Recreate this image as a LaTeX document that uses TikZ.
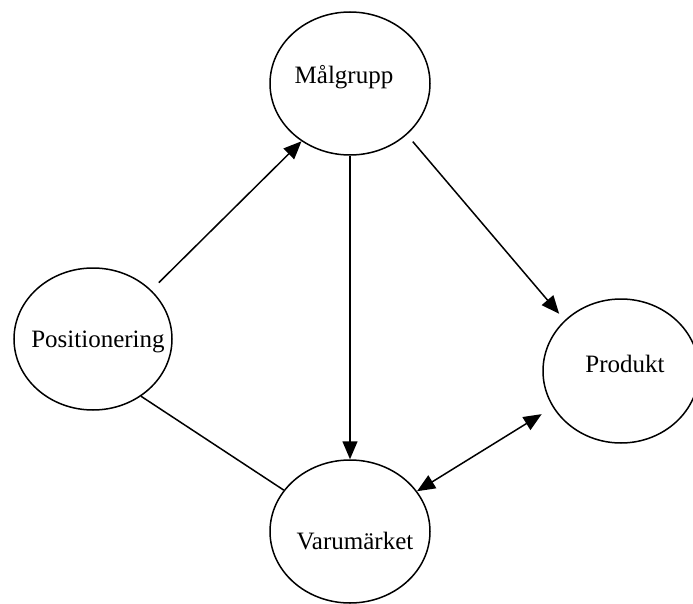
\documentclass[tikz,border=0pt]{standalone}
\usepackage{fontspec}
\setmainfont{Liberation Serif}
\usetikzlibrary{shapes.geometric,arrows.meta}
\begin{document}
\begin{tikzpicture}[x=1pt,y=-1pt,
  ell/.style={draw=black,line width=1.5pt,ellipse,inner sep=0pt},
  lbl/.style={anchor=base,inner sep=0pt,font=\fontsize{25}{30}\selectfont},
  conn/.style={draw=black,line width=1.5pt},
  arr/.style={conn,-{Triangle[length=18pt,width=15pt]}},
  darr/.style={conn,{Triangle[length=18pt,width=15pt]}-{Triangle[length=18pt,width=15pt]}}]
\useasboundingbox (0,0) rectangle (693,604);
\node[ell,minimum width=160pt,minimum height=143pt] (m) at (350,83.5) {};
\node[ell,minimum width=158pt,minimum height=142pt] (p) at (93,339) {};
\node[ell,minimum width=156pt,minimum height=144pt] (d) at (621,371) {};
\node[ell,minimum width=160pt,minimum height=143pt] (v) at (350,531.5) {};
\node[lbl] (mt) at (344,83.3) {Målgrupp};
\node[lbl] (pt) at (98,347.7) {Positionering};
\node[lbl] (dt) at (625,372.7) {Produkt};
\node[lbl] (vt) at (355,549) {Varumärket};
\draw[arr,shorten <=10.5pt] (p.40.7) -- (m.230.3);
\draw[arr] (m.south) -- (v.north);
\draw[arr,shorten <=9pt,shorten >=8.4pt] (m.318.3) -- (d.138.9);
\draw[darr,shorten <=13pt] (d.208) -- (v.31.3);
\draw[conn] (p.310.8) -- (v.148.7);
\end{tikzpicture}
\end{document}
